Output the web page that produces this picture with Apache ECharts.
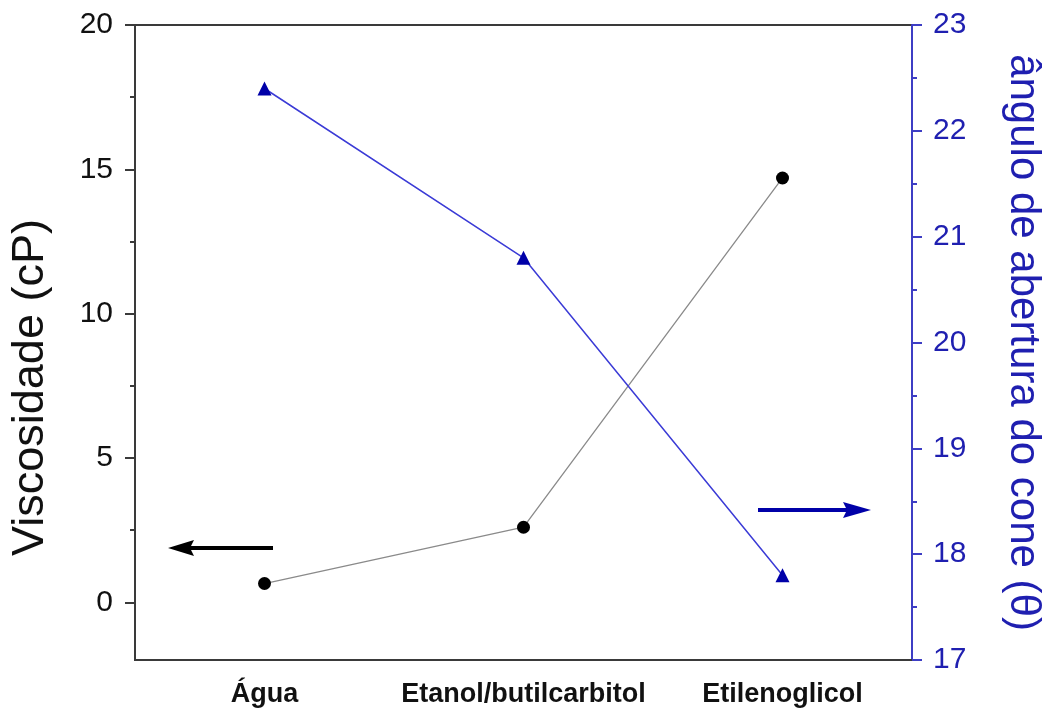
<!DOCTYPE html>
<html>
<head>
<meta charset="utf-8">
<script src="https://cdn.jsdelivr.net/npm/echarts@6/dist/echarts.min.js"></script>
<style>
  html, body { margin: 0; padding: 0; background: #fff; }
  #chart { width: 1049px; height: 711px; }
</style>
</head>
<body>
<div id="chart"></div>
<script>
// Fluids compared
const categories = ['Água', 'Etanol/butilcarbitol', 'Etilenoglicol'];
// Viscosity (cP), left axis
const viscosity = [0.65, 2.6, 14.7];
// Cone opening angle (θ), right axis
const coneAngle = [22.4, 20.8, 17.8];

// Axis ticks
const viscTicks = [0, 5, 10, 15, 20];
const viscMinorTicks = [2.5, 7.5, 12.5, 17.5];
const angleRange = [17, 23];

const FONT = '"Liberation Sans", Arial, sans-serif';
const GRAY = '#3a3a3a';
const BLUE_AXIS = '#3d3dc4';
const BLUE_TEXT = '#1f1fb0';
const BLUE_MARK = '#0000a8';

const chart = echarts.init(document.getElementById('chart'), null, { renderer: 'canvas' });

chart.setOption({
  animation: false,
  backgroundColor: '#ffffff',
  grid: {
    left: 135, right: 137, top: 25, bottom: 51,
    outerBoundsMode: 'none',
    containLabel: false,
    show: true, borderColor: GRAY, borderWidth: 2, backgroundColor: 'transparent'
  },
  xAxis: {
    type: 'category',
    data: categories,
    boundaryGap: true,
    axisLine: { onZero: false, lineStyle: { color: GRAY, width: 2 } },
    axisTick: { alignWithLabel: true, length: 9, lineStyle: { color: GRAY, width: 2 } },
    axisLabel: {
      interval: 0, hideOverlap: false,
      margin: 21, color: '#111', fontFamily: FONT, fontWeight: 'bold', fontSize: 27
    },
    splitLine: { show: false }
  },
  yAxis: [
    {
      type: 'value',
      position: 'left',
      min: -2, max: 20,
      name: 'Viscosidade (cP)',
      nameLocation: 'middle',
      nameGap: 82,
      nameTextStyle: { color: '#111', fontFamily: FONT, fontSize: 45, padding: [0, 90, 0, 0] },
      axisLine: { show: true, onZero: false, lineStyle: { color: GRAY, width: 2 } },
      axisTick: { show: true, length: 10, customValues: viscTicks, lineStyle: { color: GRAY, width: 2 } },
      axisLabel: { customValues: viscTicks, margin: 22, color: '#111', fontFamily: FONT, fontSize: 30 },
      splitLine: { show: false }
    },
    {
      type: 'value',
      position: 'right',
      min: angleRange[0], max: angleRange[1], interval: 1,
      name: 'ângulo de abertura do cone (θ)',
      nameLocation: 'middle',
      nameRotate: -90,
      nameGap: 90,
      nameTextStyle: { color: BLUE_TEXT, fontFamily: FONT, fontSize: 42 },
      axisLine: { show: true, onZero: false, lineStyle: { color: BLUE_AXIS, width: 2 } },
      axisTick: { show: true, length: 10, lineStyle: { color: BLUE_AXIS, width: 2 } },
      minorTick: { show: true, splitNumber: 2, length: 5, lineStyle: { color: BLUE_AXIS, width: 2 } },
      axisLabel: { margin: 21, color: BLUE_TEXT, fontFamily: FONT, fontSize: 30 },
      splitLine: { show: false }
    },
    {
      // minor ticks for the viscosity axis
      type: 'value',
      position: 'left',
      min: -2, max: 20,
      axisLine: { show: false, onZero: false },
      axisTick: { show: true, length: 5, customValues: viscMinorTicks, lineStyle: { color: GRAY, width: 2 } },
      axisLabel: { show: false },
      splitLine: { show: false }
    }
  ],
  series: [
    {
      name: 'Viscosidade',
      type: 'line',
      yAxisIndex: 0,
      data: viscosity,
      symbol: 'circle',
      symbolSize: 13,
      lineStyle: { color: '#8a8a8a', width: 1.3 },
      itemStyle: { color: '#000' },
      z: 3
    },
    {
      name: 'ângulo',
      type: 'line',
      yAxisIndex: 1,
      data: coneAngle,
      symbol: 'triangle',
      symbolSize: 14,
      lineStyle: { color: '#3b3bd6', width: 1.5 },
      itemStyle: { color: BLUE_MARK },
      z: 3
    }
  ],
  graphic: [
    // arrow pointing to the viscosity axis
    { type: 'line', shape: { x1: 273, y1: 548, x2: 186, y2: 548 }, style: { stroke: '#000', lineWidth: 4 } },
    { type: 'polygon', shape: { points: [[168, 548], [194, 540], [190, 548], [194, 556]] }, style: { fill: '#000' } },
    // arrow pointing to the cone angle axis
    { type: 'line', shape: { x1: 758, y1: 510, x2: 850, y2: 510 }, style: { stroke: BLUE_MARK, lineWidth: 4 } },
    { type: 'polygon', shape: { points: [[871, 510], [843, 502], [847, 510], [843, 518]] }, style: { fill: BLUE_MARK } }
  ]
});
</script>
</body>
</html>
